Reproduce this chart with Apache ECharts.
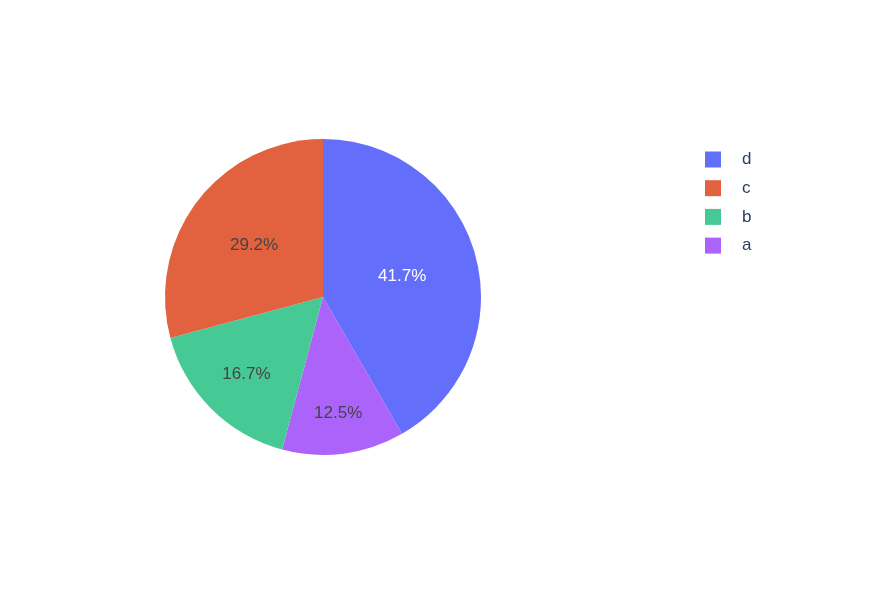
<!DOCTYPE html>
<html><head><meta charset="utf-8">
<script src="https://cdn.jsdelivr.net/npm/echarts@6/dist/echarts.min.js"></script>
<style>html,body{margin:0;padding:0;background:#fff}#c{width:880px;height:590px}</style>
</head><body><div id="c"></div>
<script>
// data (drawing order, clockwise from 12 o'clock)
const categories = ['d', 'a', 'b', 'c'];
const values = [10, 3, 4, 7];
const legendOrder = ['d', 'c', 'b', 'a'];
// styles
const colors = {d: '#636efa', a: '#ab63fa', b: '#47c995', c: '#e2623f'};
const textColors = {d: '#ffffff', a: '#444444', b: '#444444', c: '#444444'};
const labelFrac = {d: 0.50, a: 0.71, b: 0.66, c: 0.53};

const cx = 323, cy = 297, R = 158;
const chart = echarts.init(document.getElementById('c'));
const total = values.reduce((s, v) => s + v, 0);
chart.setOption({
  animation: false,
  backgroundColor: '#fff',
  legend: {
    orient: 'vertical', left: 700, top: 146,
    data: legendOrder,
    itemWidth: 16, itemHeight: 16, itemGap: 11.7,
    icon: 'rect',
    textStyle: {fontSize: 17, color: '#2a3f5f', fontFamily: 'Liberation Sans, Arial, sans-serif', padding: [0, 0, 0, 16]},
    selectedMode: false
  },
  series: [{
    type: 'pie',
    center: [cx, cy], radius: R,
    startAngle: 90, clockwise: true,
    avoidLabelOverlap: false,
    silent: true,
    itemStyle: {borderWidth: 0},
    label: {
      show: true, position: 'inside',
      fontSize: 17, fontFamily: 'Liberation Sans, Arial, sans-serif',
      formatter: p => (p.value / total * 100).toFixed(1) + '%'
    },
    labelLayout: function (p) {
      const name = categories[p.dataIndex];
      const f = labelFrac[name] / 0.5 - 1;
      const lx = p.labelRect.x + p.labelRect.width / 2;
      const ly = p.labelRect.y + p.labelRect.height / 2;
      return {dx: (lx - cx) * f, dy: (ly - cy) * f + 1};
    },
    data: categories.map((n, i) => ({
      name: n, value: values[i],
      itemStyle: {color: colors[n]},
      label: {color: textColors[n]}
    }))
  }]
});
</script></body></html>
